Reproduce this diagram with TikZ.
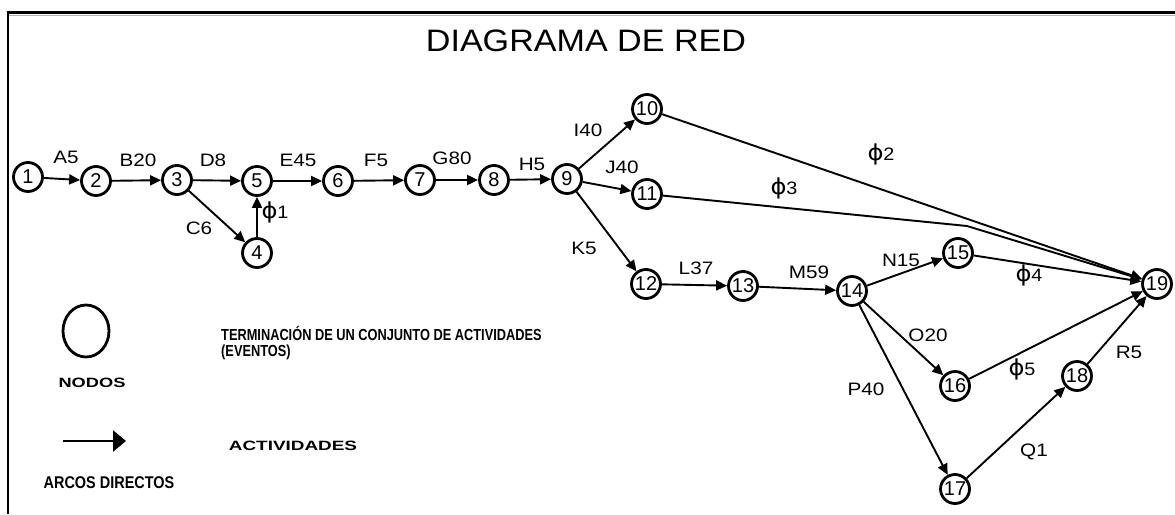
\documentclass[tikz,border=0pt]{standalone}
\usepackage{fontspec}
\setmainfont{Liberation Sans}
\newfontfamily\phifont{DejaVu Sans}
\usetikzlibrary{arrows.meta,shapes.geometric}
% horizontally widened text
\newcommand\wide[2]{\scalebox{#1}[1]{#2}}
% dummy activity label: phi followed by its number
\newcommand\dum[1]{\wide{1.1}{{\phifont\fontsize{22}{22}\selectfont ϕ}#1}}

\begin{document}
\begin{tikzpicture}[x=1pt,y=-1pt,
  ev/.style={circle,draw,line width=2.8pt,minimum size=29pt,inner sep=0pt,
             font=\fontsize{20}{20}\selectfont},
  act/.style={line width=1.9pt,-{Triangle[length=11pt,width=10pt]}},
  lab/.style={font=\fontsize{18}{18}\selectfont,inner sep=0pt},
  legnar/.style={font=\bfseries\fontsize{16}{18}\selectfont,inner sep=0pt,anchor=west},
  legwide/.style={font=\bfseries\fontsize{13.5}{15}\selectfont,inner sep=0pt},
]
\useasboundingbox (0,0) rectangle (1175,514);

% frame
\draw[gray!60,line width=1pt] (9,15.5) -- (1175,15.5);
\draw[line width=2.6pt] (8,514) -- (8,12.5) -- (1175,12.5);

% title
\node[font=\fontsize{31}{31}\selectfont,inner sep=0pt] (title) at (586,41) {\wide{1.1}{DIAGRAMA DE RED}};

% events
\node[ev] (n1)  at (28,177)  {1};
\node[ev] (n2)  at (96,181)  {2};
\node[ev] (n3)  at (177,180) {3};
\node[ev] (n4)  at (257,253) {4};
\node[ev] (n5)  at (257,181) {5};
\node[ev] (n6)  at (338,181) {6};
\node[ev] (n7)  at (420,180) {7};
\node[ev] (n8)  at (494,180) {8};
\node[ev] (n9)  at (567,179) {9};
\node[ev] (n10) at (647,109) {10};
\node[ev] (n11) at (647,194) {11};
\node[ev] (n12) at (646,284) {12};
\node[ev] (n13) at (743,286) {13};
\node[ev] (n14) at (852,291) {14};
\node[ev] (n15) at (958,253) {15};
\node[ev] (n16) at (955,386) {16};
\node[ev] (n17) at (955,489) {17};
\node[ev] (n18) at (1077,376) {18};
\node[ev] (n19) at (1157,284) {19};
\coordinate (bend) at (967,226);

% activities
\draw[act] (n1) -- (n2);
\draw[act] (n2) -- (n3);
\draw[act] (n3) -- (n5);
\draw[act] (n3) -- (n4);
\draw[act] (n4) -- (n5);
\draw[act] (n5) -- (n6);
\draw[act] (n6) -- (n7);
\draw[act] (n7) -- (n8);
\draw[act] (n8) -- (n9);
\draw[act] (n9) -- (n10);
\draw[act] (n9) -- (n11);
\draw[act] (n9) -- (n12);
\draw[act] (n12) -- (n13);
\draw[act] (n13) -- (n14);
\draw[act] (n14) -- (n15);
\draw[act] (n14) -- (n16);
\draw[act] (n14) -- (n17);
\draw[act] (n17) -- (n18);
\draw[act] (n18) -- (n19);
\draw[act] (n10) -- (n19);
\draw[act] (n11) -- (bend) -- (n19);
\draw[act] (n15) -- (n19);
\draw[act] (n16) -- (n19);

% activity labels
\node[lab] (lA) at (66,157)  {\wide{1.15}{A5}};
\node[lab] (lB) at (138,160) {\wide{1.15}{B20}};
\node[lab] (lD) at (213,160) {\wide{1.15}{D8}};
\node[lab] (lC) at (199,228) {\wide{1.15}{C6}};
\node[lab] (lE) at (298,160) {\wide{1.15}{E45}};
\node[lab] (lF) at (376,160) {\wide{1.15}{F5}};
\node[lab] (lG) at (452,158) {\wide{1.15}{G80}};
\node[lab] (lH) at (532,164) {\wide{1.15}{H5}};
\node[lab] (lI) at (588,130) {\wide{1.15}{I40}};
\node[lab] (lJ) at (622,167) {\wide{1.15}{J40}};
\node[lab] (lK) at (584,248) {\wide{1.15}{K5}};
\node[lab] (lL) at (696,268) {\wide{1.15}{L37}};
\node[lab] (lM) at (809,272) {\wide{1.15}{M59}};
\node[lab] (lN) at (901,260) {\wide{1.15}{N15}};
\node[lab] (lO) at (928,335) {\wide{1.15}{O20}};
\node[lab] (lP) at (866,389) {\wide{1.15}{P40}};
\node[lab] (lQ) at (1034,452) {\wide{1.15}{Q1}};
\node[lab] (lR) at (1129,352) {\wide{1.15}{R5}};
\node[lab] (d1) at (275,212) {\dum{1}};
\node[lab] (d2) at (881,154) {\dum{2}};
\node[lab] (d3) at (784,188) {\dum{3}};
\node[lab] (d4) at (1029,275) {\dum{4}};
\node[lab] (d5) at (1022,369) {\dum{5}};

% legend
\node[ellipse,draw,line width=2.8pt,minimum width=46pt,minimum height=52pt,
      inner sep=0pt] (legnode) at (86,331) {};
\node[legwide] (legnodos) at (92,383) {\wide{1.35}{NODOS}};
\node[legnar] (legterm) at (221,333) {\wide{0.8}{TERMINACIÓN DE UN CONJUNTO DE ACTIVIDADES}};
\node[legnar] (legev) at (221,352) {\wide{0.8}{(EVENTOS)}};
\coordinate (arrA) at (63,441);
\coordinate (arrB) at (126,441);
\draw[line width=2.4pt,-{Triangle[length=13pt,width=21pt]}] (arrA) -- (arrB);
\node[legwide] (legact) at (293,446) {\wide{1.4}{ACTIVIDADES}};
\node[legnar,anchor=center,font=\bfseries\fontsize{17}{18}\selectfont] (legarc) at (109,483) {\wide{0.85}{ARCOS DIRECTOS}};
\end{tikzpicture}
\end{document}
